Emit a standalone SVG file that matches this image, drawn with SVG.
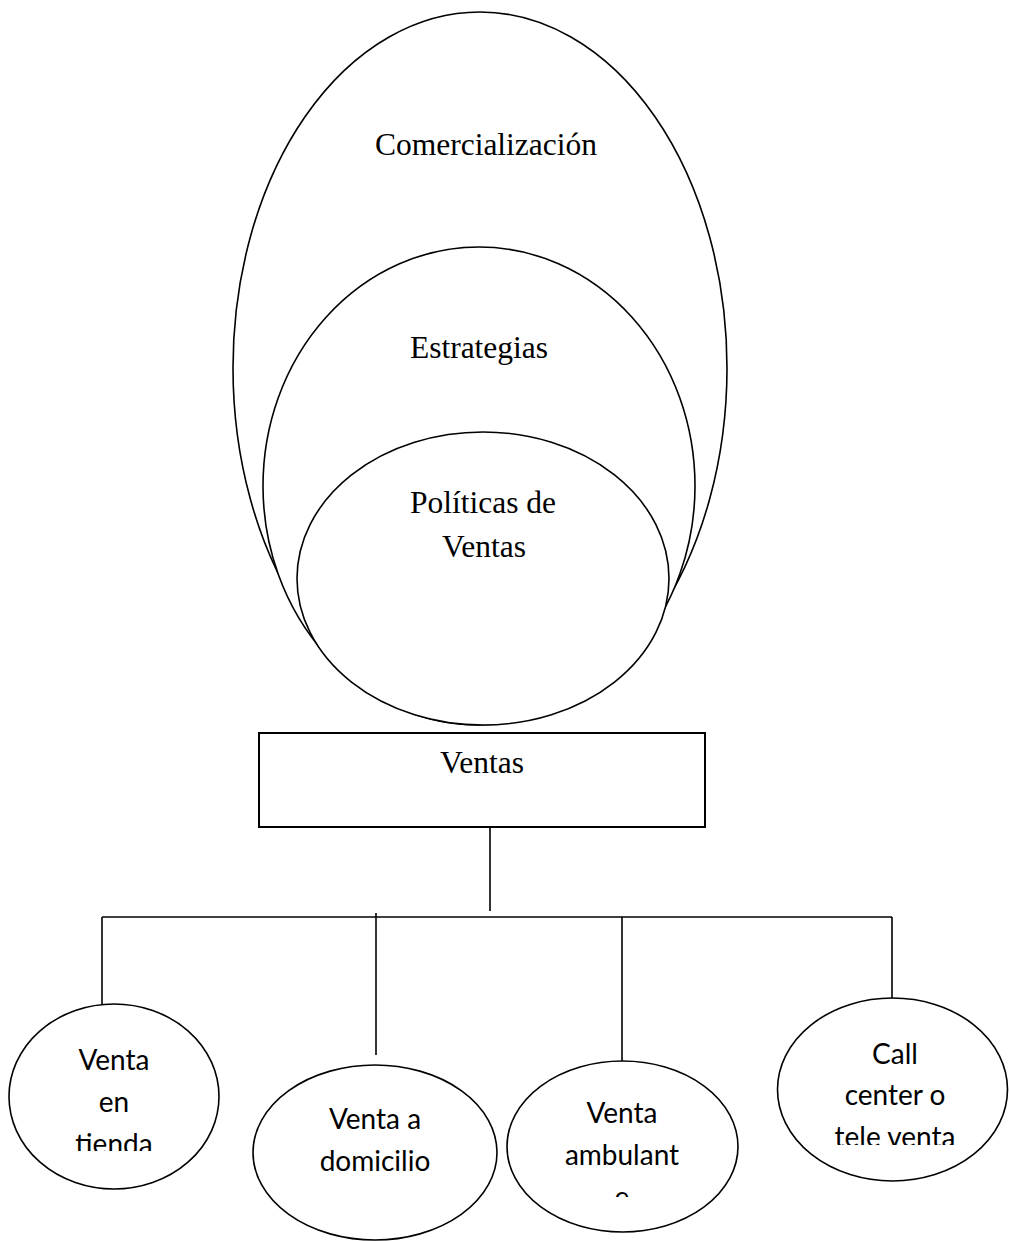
<svg xmlns="http://www.w3.org/2000/svg" width="1009" height="1241" viewBox="0 0 1009 1241">
  <defs>
    <style>
      .shape { fill: #ffffff; stroke: #000000; stroke-width: 1.6; }
      .box { fill: #ffffff; stroke: #000000; stroke-width: 2; }
      .conn { stroke: #000000; stroke-width: 1.6; fill: none; }
      .serif { font-family: "Liberation Serif", "Times New Roman", serif; font-size: 31.5px; fill: #000000; text-anchor: middle; }
      .sans { font-family: Lato, "Liberation Sans", sans-serif; font-size: 28px; fill: #000000; text-anchor: middle; }
    </style>
    <clipPath id="clip-tienda"><rect x="0" y="1030" width="240" height="121"/></clipPath>
    <clipPath id="clip-ambulante"><rect x="500" y="1090" width="260" height="107"/></clipPath>
    <clipPath id="clip-call"><rect x="770" y="1030" width="239" height="115"/></clipPath>
  </defs>
  <rect width="1009" height="1241" fill="#ffffff"/>

  <g id="comercializacion">
    <ellipse class="shape" cx="480" cy="368" rx="247" ry="356"/>
    <text class="serif" x="486" y="155">Comercialización</text>
  </g>
  <g id="estrategias">
    <ellipse class="shape" cx="479" cy="486" rx="216" ry="239"/>
    <text class="serif" x="479" y="358">Estrategias</text>
  </g>
  <g id="politicas">
    <ellipse class="shape" cx="483" cy="578.5" rx="186" ry="146.5"/>
    <text class="serif" x="483" y="513">Políticas de</text>
    <text class="serif" x="484" y="557">Ventas</text>
  </g>

  <g id="ventas">
    <rect class="box" x="259" y="733" width="446" height="94"/>
    <text class="serif" x="482" y="773">Ventas</text>
  </g>

  <g id="connectors">
    <line class="conn" x1="490" y1="827" x2="490" y2="911"/>
    <line class="conn" x1="102" y1="917" x2="892" y2="917"/>
    <line class="conn" x1="102" y1="917" x2="102" y2="1004"/>
    <line class="conn" x1="376" y1="913" x2="376" y2="1055"/>
    <line class="conn" x1="622" y1="917" x2="622" y2="1061"/>
    <line class="conn" x1="892" y1="917" x2="892" y2="998"/>
  </g>

  <g id="venta-en-tienda">
    <ellipse class="shape" cx="114" cy="1096.5" rx="105" ry="92.5"/>
    <g clip-path="url(#clip-tienda)">
      <text class="sans" x="114" y="1070">Venta</text>
      <text class="sans" x="114" y="1112">en</text>
      <text class="sans" x="114" y="1154">tienda</text>
    </g>
  </g>
  <g id="venta-a-domicilio">
    <ellipse class="shape" cx="375" cy="1152.5" rx="122" ry="87.5"/>
    <text class="sans" x="375" y="1129">Venta a</text>
    <text class="sans" x="375" y="1171">domicilio</text>
  </g>
  <g id="venta-ambulante">
    <ellipse class="shape" cx="622.5" cy="1146.5" rx="115.5" ry="85.5"/>
    <g clip-path="url(#clip-ambulante)">
      <text class="sans" x="622" y="1123">Venta</text>
      <text class="sans" x="622" y="1165">ambulant</text>
      <text class="sans" x="622" y="1207">e</text>
    </g>
  </g>
  <g id="call-center">
    <ellipse class="shape" cx="892.5" cy="1089.5" rx="115" ry="91.5"/>
    <g clip-path="url(#clip-call)">
      <text class="sans" x="895" y="1064">Call</text>
      <text class="sans" x="895" y="1105">center o</text>
      <text class="sans" x="895" y="1147">tele venta</text>
    </g>
  </g>
</svg>
